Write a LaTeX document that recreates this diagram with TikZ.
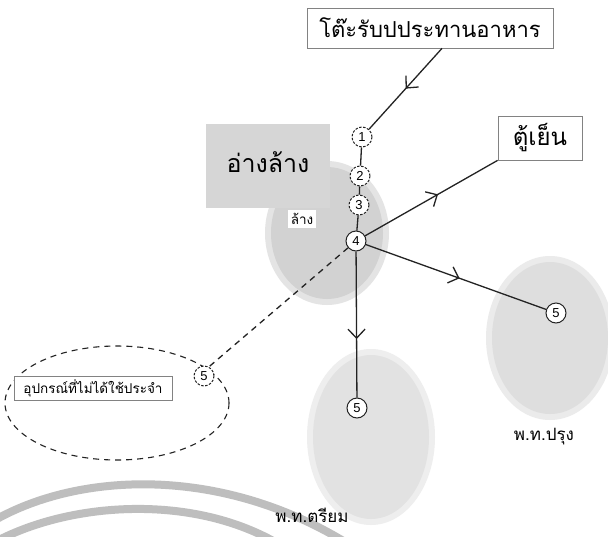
\documentclass[tikz,border=0pt]{standalone}
\usepackage{fontspec}
\newfontfamily\thai[Script=Thai]{Loma}
\setsansfont{Liberation Sans}
\usetikzlibrary{arrows.meta,decorations.markings,shapes.geometric}
\definecolor{ink}{RGB}{35,35,35}
\definecolor{boxline}{RGB}{130,130,130}
\definecolor{sinkgray}{RGB}{214,214,214}
\definecolor{blobA}{RGB}{210,210,210}
\definecolor{blobB}{RGB}{222,222,222}
\definecolor{blobC}{RGB}{226,226,226}
\definecolor{wmark}{RGB}{190,190,190}
\tikzset{
  num/.style={circle,draw=ink,line width=1pt,fill=white,inner sep=0pt,minimum size=20pt,
    font=\sffamily\fontsize{13}{13}\selectfont},
  numd/.style={num,dash pattern=on 2.5pt off 1.5pt},
  flow/.style={draw=ink,line width=1.3pt},
  longdash/.style={dash pattern=on 6pt off 5pt},
  midarrow/.style={postaction={decorate},decoration={markings,
    mark=at position #1 with {\arrow{Straight Barb[length=9pt,width=17pt,line width=1.3pt]}}}},
  labelbox/.style={draw=boxline,line width=0.7pt,fill=white,inner sep=0pt},
  biglabel/.style={font=\thai\fontsize{22}{22}\selectfont},
  sinklabel/.style={font=\thai\fontsize{25}{25}\selectfont},
  fridgelabel/.style={font=\thai\fontsize{24}{24}\selectfont},
  midlabel/.style={font=\thai\fontsize{17}{17}\selectfont},
  smalllabel/.style={font=\thai\fontsize{13.5}{13.5}\selectfont}
}
\begin{document}
\begin{tikzpicture}[x=1pt,y=-1pt]
\useasboundingbox (0,0) rectangle (608,536);
\fill[white] (0,0) rectangle (608,536);

% watermark arcs
\draw[wmark,line width=8pt] (-5,520) .. controls (80,472) and (220,466) .. (345,542);
\draw[wmark,line width=8pt] (-5,542) .. controls (70,502) and (190,494) .. (275,542);

% gray areas
\fill[blobA!60] (327,233) ellipse [x radius=62, y radius=72];
\fill[blobA] (327,233) ellipse [x radius=56, y radius=66];
\fill[sinkgray] (206,124) rectangle (330,208);
\fill[blobB!60] (550,338) ellipse [x radius=64, y radius=82];
\fill[blobB] (550,338) ellipse [x radius=58, y radius=76];
\fill[blobC!60] (371,437) ellipse [x radius=64, y radius=88];
\fill[blobC] (371,437) ellipse [x radius=58, y radius=82];

% labels
\node[labelbox,minimum width=246pt,minimum height=40pt,biglabel] (tb) at (430,28) {โต๊ะรับปประทานอาหาร};
\node[labelbox,minimum width=84pt,minimum height=44pt,fridgelabel] (fr) at (540,138) {ตู้เย็น};
\node[sinklabel] (sink) at (268,162) {อ่างล้าง};
\node[fill=white,inner sep=3pt,smalllabel] (wash) at (302,219) {ล้าง};
\node[midlabel] (cook) at (544,437) {พ.ท.ปรุง};
\node[midlabel] (prep) at (312,515) {พ.ท.ตรียม};

% ellipse of spare equipment
\node[ellipse,draw=ink,longdash,line width=1.1pt,minimum width=224pt,minimum height=114pt,inner sep=0pt] (ell) at (117,403) {};
\node[labelbox,minimum width=158pt,minimum height=24pt,smalllabel] (spare) at (93,388) {อุปกรณ์ที่ไม่ได้ใช้ประจำ};

% numbered points
\node[numd] (n1) at (362,137) {1};
\node[numd] (n2) at (360,176) {2};
\node[numd] (n3) at (359,205) {3};
\node[num] (n4) at (356,241) {4};
\node[num] (n5b) at (357,408) {5};
\node[num] (n5r) at (556,313) {5};
\node[numd] (n5e) at (204,376) {5};

% connectors
\draw[flow,midarrow=0.5] ([xshift=12pt]tb.south) -- (n1);
\draw[flow] (n1) -- (n2);
\draw[flow] (n2) -- (n3);
\draw[flow] (n3) -- (n4);
\draw[flow,midarrow=0.55] (n4) -- (fr.south west);
\draw[flow,midarrow=0.52] (n4) -- (n5r);
\draw[flow,midarrow=0.6] (n4) -- (n5b);
\draw[ink,longdash,line width=1.3pt] (n4) -- (ell.21);
\end{tikzpicture}
\end{document}
